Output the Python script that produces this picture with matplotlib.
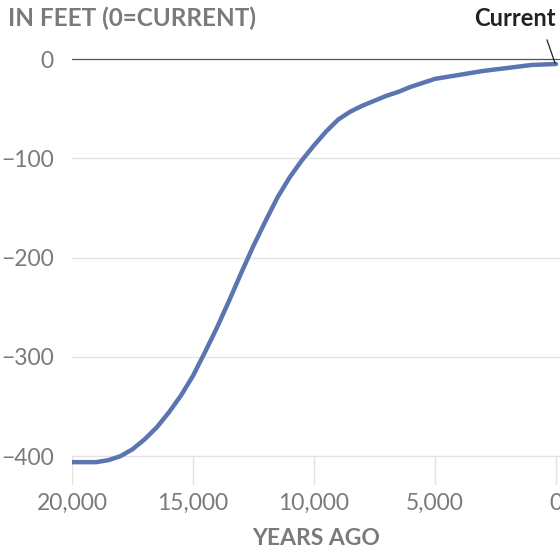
import matplotlib.pyplot as plt

# sea level relative to today
anos = [20000, 19000, 18500, 18000, 17500, 17000, 16500, 16000, 15500, 15000,
        14500, 14000, 13500, 13000, 12500, 12000, 11500, 11000, 10500, 10000,
        9500, 9000, 8500, 8000, 7500, 7000, 6500, 6000, 5500, 5000,
        4000, 3000, 2000, 1000, 0]
nivel = [-406, -406, -404, -400, -393, -383, -371, -356, -339, -319,
         -295, -270, -243, -215, -188, -163, -139, -119, -102, -87,
         -73, -61, -53, -47, -42, -37, -33, -28, -24, -20,
         -16, -12, -9, -6, -5]

xticks = [20000, 15000, 10000, 5000, 0]
xlabels = ['20,000', '15,000', '10,000', '5,000', '0']
yticks = [0, -100, -200, -300, -400]
ylabels = ['0', '\u2212100', '\u2212200', '\u2212300', '\u2212400']

plt.rcParams['font.family'] = ['Lato', 'DejaVu Sans']
cinza = '#7a7a7a'

fig = plt.figure(figsize=(5.6, 5.5), dpi=100)
ax = fig.add_axes([72 / 560, 1 - 485 / 550, 1 - 72 / 560, (485 - 40) / 550])

ymin = -429
ax.set_xlim(20000, -165)
ax.set_ylim(ymin, (59 - 40) / 0.993)

for y in yticks:
    if y == 0:
        ax.axhline(y, color='#555555', lw=0.9, zorder=1)
    else:
        ax.axhline(y, color='#e3e3e3', lw=1.0, zorder=1)
ax.vlines(xticks, ymin, -400, color='#e3e3e3', lw=1.0, zorder=1)

ax.plot(anos, nivel, color='#5b75b0', lw=3.2, solid_capstyle='round',
        solid_joinstyle='round', zorder=3)

ax.set_xticks(xticks)
ax.set_xticklabels(xlabels)
ax.set_yticks(yticks)
ax.set_yticklabels(ylabels)
ax.tick_params(length=0, labelsize=16.5, colors=cinza)
ax.tick_params(axis='y', pad=13)
ax.tick_params(axis='x', pad=6)
for s in ax.spines.values():
    s.set_visible(False)

ax.set_xlabel('YEARS AGO', fontsize=16.5, fontweight='bold', color=cinza, labelpad=10)
fig.text(8 / 560, 1 - 18 / 550, 'IN FEET (0=CURRENT)', fontsize=17.5, fontweight='bold',
         color=cinza, ha='left', va='center')

fig.text(556 / 560, 1 - 19 / 550, 'Current', fontsize=17, fontweight='bold',
         color='#222222', ha='right', va='center')
fig.add_artist(plt.Line2D([547 / 560, 555 / 560], [1 - 40 / 550, 1 - 63 / 550],
                          color='#222222', lw=0.9))

plt.savefig('out.png', dpi=100)
